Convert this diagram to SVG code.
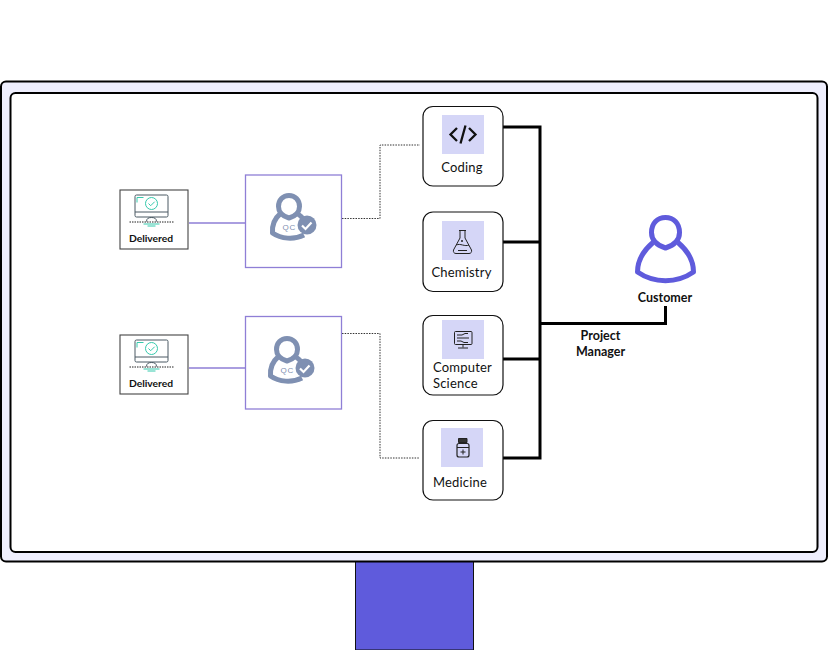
<svg xmlns="http://www.w3.org/2000/svg" width="828" height="650" viewBox="0 0 828 650">
<style>
text{font-family:"Lato","Liberation Sans",sans-serif;fill:#111}
.lb{font-size:13px;font-weight:400;letter-spacing:.2px}
.sm{font-size:10.300px;font-weight:700;text-anchor:middle}
.hd{font-size:12.500px;font-weight:700;text-anchor:middle}
.card{fill:#fff;stroke:#111;stroke-width:1.2}
.tile{fill:#d5d6f7}
.box{fill:#fff;stroke:#8f7fd6;stroke-width:1.3}
.bus{fill:none;stroke:#000;stroke-width:3}
.dot{fill:none;stroke:#333;stroke-width:1;stroke-dasharray:1.5 1.2}
.pl{fill:none;stroke:#8f7fd6;stroke-width:1.3}
.ic{fill:none;stroke:#222;stroke-width:1}
.qc{fill:none;stroke:#7f90b2;stroke-width:5;stroke-linejoin:round}
.cy{fill:none;stroke:#35c9ac;stroke-width:1}
</style>
<defs>
<g id="deliv">
<rect x="0.500" y="0.500" width="68" height="59" fill="#fff" stroke="#444" stroke-width="1.100"/>
<rect x="15.500" y="5.500" width="33" height="22" rx="1.500" fill="none" stroke="#4a5963" stroke-width="1"/>
<path d="M15.500 22.500H48.500" fill="none" stroke="#4a5963" stroke-width="1"/>
<path class="cy" d="M17.500 13V8H24"/>
<circle cx="32" cy="14" r="6" class="cy"/>
<path class="cy" d="M29 14l2.200 2.200 4-4"/>
<path d="M10 32.500H54" stroke="#222" stroke-width="1" stroke-dasharray="1.500 1"/>
<path d="M27 32c0-3 2-4 5-4s5 1 5 4" fill="none" stroke="#4a5963" stroke-width="1"/>
<path class="cy" d="M24 34.500H40M28 36.500H36"/>
<text class="sm" x="31.500" y="52.500">Delivered</text>
</g>
<g id="qc">
<path class="qc" d="M45 44C38 42 34.500 38 34.500 32.500C34.500 26 39 21.500 45 21.500C51 21.500 55.500 26 55.500 32.500C55.500 38 52 42 45 44Z"/>
<path class="qc" d="M36 40C30 45 28 52 28.500 59C37 65 50 66 60 61"/>
<path class="qc" d="M54 40C57 42 59 44 60 46"/>
<circle cx="63" cy="51" r="9.500" fill="#7f90b2"/>
<path d="M58 51.500l3.500 3.500 6-6.500" fill="none" stroke="#fff" stroke-width="2.200"/>
<text x="38.500" y="56" font-size="8" style="fill:#7f90b2;font-family:'Liberation Sans',sans-serif" letter-spacing=".8">QC</text>
</g>
</defs>

<g id="monitor">
<rect x="355.500" y="555" width="118" height="95" fill="#5f5bdc" stroke="#111" stroke-width="1"/>
<rect x="1" y="81.500" width="826" height="480" rx="5" fill="#eeeefd" stroke="#000" stroke-width="2"/>
<rect x="10.500" y="93" width="807" height="459" rx="5" fill="#fff" stroke="#000" stroke-width="2"/>
</g>

<g id="connectors">
<path class="bus" d="M503 127H540V458H503M503 242H540M503 359H540M540 323.500H665.500V306"/>
<path class="dot" d="M342 218.500H380V145H420"/>
<path class="dot" d="M342 333.500H380V458H420"/>
<path class="pl" d="M189 223H245M189 368H245"/>
</g>

<g id="delivered-1"><use href="#deliv" x="119.500" y="189.500"/></g>
<g id="delivered-2"><use href="#deliv" x="119.500" y="334.500"/></g>

<g id="qc-1"><rect class="box" x="245.500" y="175" width="96" height="92.500"/><use href="#qc" x="244" y="174"/></g>
<g id="qc-2"><rect class="box" x="245.500" y="316.500" width="96" height="92.500"/><use href="#qc" x="242" y="317"/></g>

<g id="coding">
<rect class="card" x="423" y="106.500" width="80" height="79.500" rx="10"/>
<rect class="tile" x="442" y="115" width="42" height="39"/>
<path d="M457 128l-6.500 6.500 6.500 6.500M469 128l6.500 6.500-6.500 6.500M465.500 125.500l-5 18" fill="none" stroke="#111" stroke-width="2.300"/>
<text class="lb" x="462" y="172" text-anchor="middle">Coding</text>
</g>
<g id="chemistry">
<rect class="card" x="423" y="212" width="80" height="79.500" rx="10"/>
<rect class="tile" x="442" y="221" width="42" height="39"/>
<path class="ic" d="M459 230.500H466M460 230.500V238L453.500 250C453 252 454 253.500 456 253.500H469C471 253.500 472 252 471.500 250L465 238V230.500M456.500 245C460 243 465 247 469 245M458 250.500H467"/>
<circle cx="462" cy="241" r="1" fill="#222"/>
<text class="lb" x="461.500" y="277" text-anchor="middle">Chemistry</text>
</g>
<g id="computer-science">
<rect class="card" x="423" y="315.500" width="80" height="79.500" rx="10"/>
<rect class="tile" x="442" y="320" width="42" height="39"/>
<rect class="ic" x="454.500" y="331.500" width="17.500" height="13" rx="1"/>
<path class="ic" d="M457 335H462L465 333.500H468M457 338H469M457 341H461L464 342.500H468M463 344.500v3M458 348H468"/>
<text class="lb" x="433" y="372">Computer</text>
<text class="lb" x="433" y="388">Science</text>
</g>
<g id="medicine">
<rect class="card" x="423" y="420.500" width="80" height="79.500" rx="10"/>
<rect class="tile" x="441" y="428" width="42" height="39"/>
<path d="M458.500 438.500H467V442.500H458.500Z" fill="#333" stroke="#222"/>
<rect x="457" y="443.500" width="12" height="13.500" rx="2" fill="none" stroke="#222" stroke-width="1.200"/>
<path d="M457 447.500H469" stroke="#222"/>
<path d="M460.500 452H465.500M463 449.500V454.500" stroke="#222"/>
<text class="lb" x="460" y="487" text-anchor="middle">Medicine</text>
</g>

<g id="customer">
<path d="M665.500 248C656 245 651.500 240 651.500 232.500C651.500 223 657.500 217.500 665.500 217.500C673.500 217.500 679.500 223 679.500 232.500C679.500 240 675 245 665.500 248Z" fill="none" stroke="#5f5bdc" stroke-width="5" stroke-linejoin="round"/>
<path d="M653 242.500C643 251 637.500 261 637.500 272C654 283.500 677 283.500 693.500 272C693.500 261 688 251 678 242.500" fill="none" stroke="#5f5bdc" stroke-width="5" stroke-linejoin="round"/>
<text class="hd" x="665" y="302">Customer</text>
</g>
<g id="project-manager">
<text class="hd" x="600.500" y="340">Project</text>
<text class="hd" x="600.500" y="356">Manager</text>
</g>
</svg>
